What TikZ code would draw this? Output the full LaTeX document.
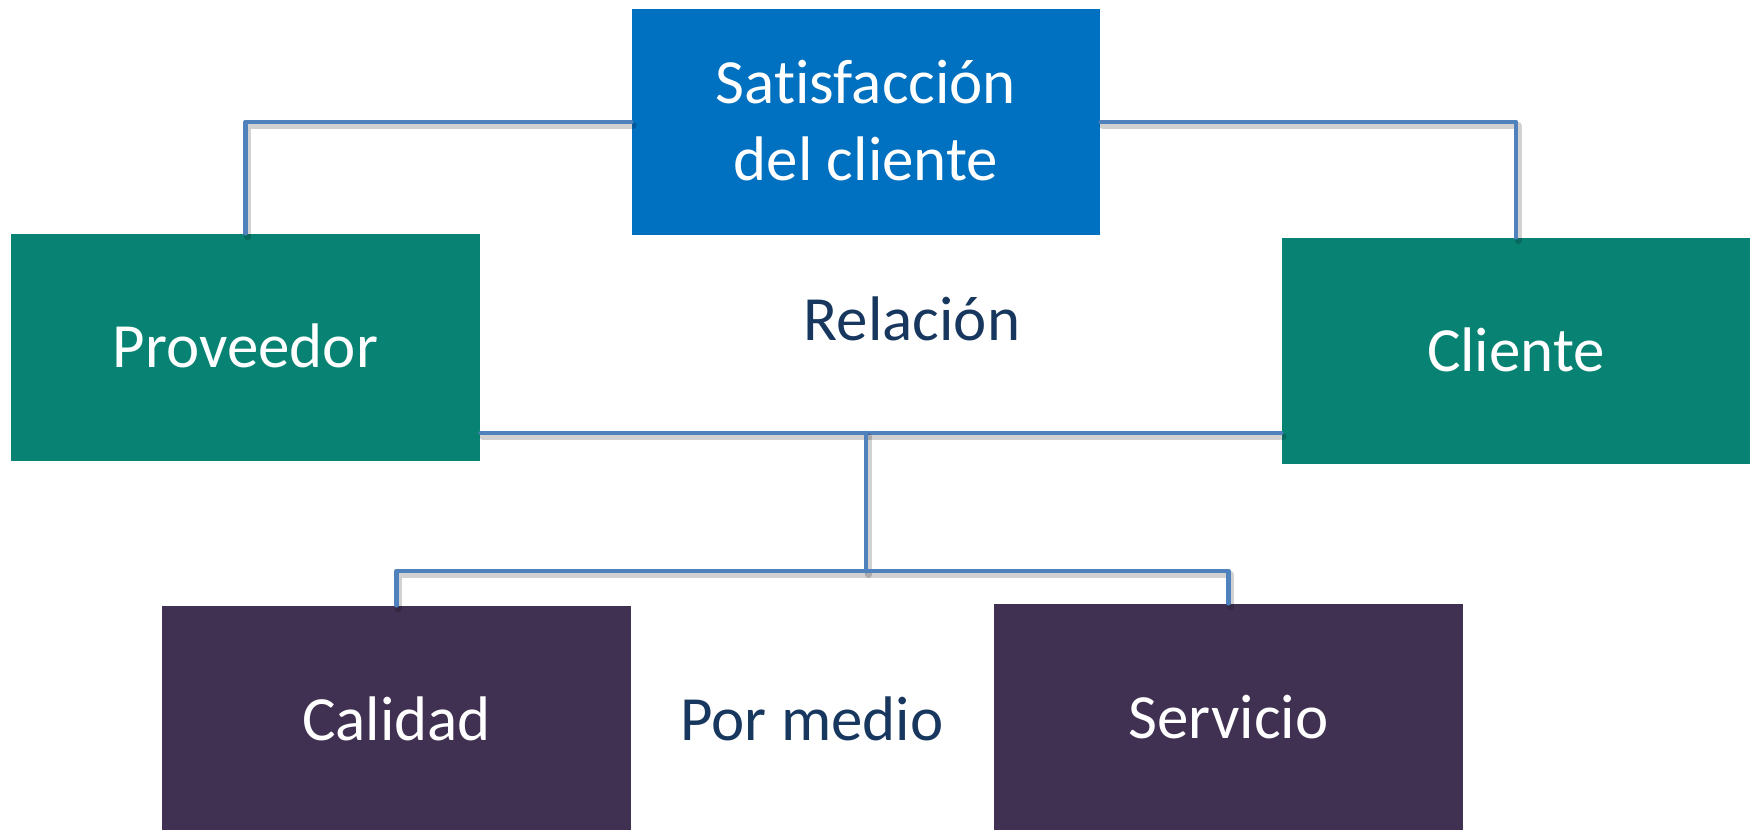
\documentclass[tikz,border=0pt]{standalone}
\usepackage{fontspec}
\setmainfont{Carlito}[Ligatures=NoCommon]
\definecolor{satblue}{HTML}{0070C0}
\definecolor{provteal}{HTML}{088373}
\definecolor{medpurple}{HTML}{403152}
\definecolor{linkblue}{HTML}{4F81BD}
\definecolor{lbldark}{HTML}{17375E}
\begin{document}
\begin{tikzpicture}[x=0.01cm,y=-0.01cm, line join=round, line cap=round,
	box/.style={inner sep=0pt, text=white, text height=11.5pt, text depth=0pt,
		font=\fontsize{17.9}{21.9}\selectfont, align=center},
	link/.style={linkblue, line width=0.047cm,
		preaction={draw, black, opacity=0.18, line width=0.07cm,
			transform canvas={shift={(0.02cm,-0.035cm)}}}},
	lbl/.style={anchor=base, inner sep=0pt, text=lbldark,
		font=\fontsize{17.9}{21.9}\selectfont}]
	\useasboundingbox (0,0) rectangle (1756,829);
	\coordinate (rel) at (866,433);
	\coordinate (por) at (866,571);
	% boxes
	\node[box, fill=satblue, text height=33.4pt, minimum width=4.68cm, minimum height=2.26cm] (sat) at (866,122) {Satisfacción\\del cliente};
	\node[box, fill=provteal, minimum width=4.69cm, minimum height=2.27cm] (prov) at (245.5,347.5) {Proveedor};
	\node[box, fill=provteal, minimum width=4.68cm, minimum height=2.26cm] (cli) at (1516,351) {Cliente};
	\node[box, fill=medpurple, minimum width=4.69cm, minimum height=2.28cm] (cal) at (396.5,720) {Calidad};
	\node[box, fill=medpurple, minimum width=4.69cm, minimum height=2.28cm] (ser) at (1228.5,718) {Servicio};
	% connectors
	\draw[link] (prov.north) |- (sat.west);
	\draw[link] (sat.east) -| (cli.north);
	\draw[link] (prov.east |- rel) -- (cli.west |- rel);
	\draw[link] (rel) -- (por);
	\draw[link] (cal.north) |- (por) -| (ser.north);
	\node[lbl] (relacion) at (912,340) {Relación};
	\node[lbl] (medio) at (812,740) {Por medio};
\end{tikzpicture}
\end{document}
